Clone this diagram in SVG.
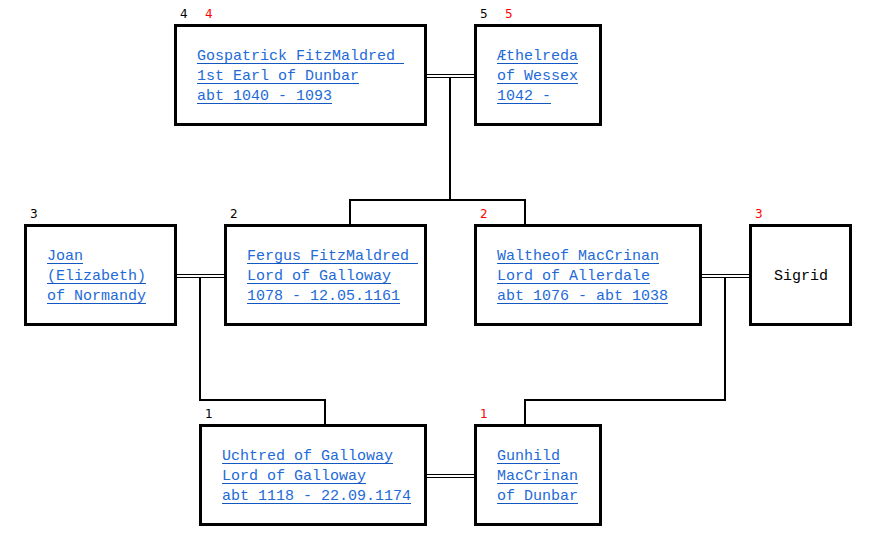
<svg xmlns="http://www.w3.org/2000/svg" width="876" height="551" viewBox="0 0 876 551">
<style>
.box{fill:#fff;stroke:#000;stroke-width:3}
.t{font-family:"Liberation Mono","Courier New",monospace;font-size:15px;fill:#1e6ad8}
.s{font-family:"Liberation Mono","Courier New",monospace;font-size:15px;fill:#000}
.u{stroke:#1358c0;stroke-width:1;fill:none}
.n{font-family:"DejaVu Sans",Verdana,sans-serif;font-size:12px;fill:#000}
.r{font-family:"DejaVu Sans",Verdana,sans-serif;font-size:12px;fill:#ff0000}
.c{stroke:#000;stroke-width:2;fill:none}
.d{stroke:#000;stroke-width:1;fill:none}
</style>
<rect width="876" height="551" fill="#fff"/>
<g id="connectors">
<path class="d" d="M427 74.5H474M427 77.5H474"/>
<path class="c" d="M450 78V200M349 200H526M350 200V224M525 200V224"/>
<path class="d" d="M177 274.5H224M177 277.5H224"/>
<path class="c" d="M200 278V400M199 400H326M325 400V424"/>
<path class="d" d="M702 274.5H749M702 277.5H749"/>
<path class="c" d="M725 278V400M524 400H726M525 400V424"/>
<path class="d" d="M427 474.5H474M427 477.5H474"/>
</g>
<g id="n4">
<text class="n" x="180" y="18">4</text><text class="r" x="205" y="18">4</text>
<rect class="box" x="175.5" y="25.5" width="250" height="99"/>
<text class="t" x="197" y="60">Gospatrick FitzMaldred</text><path class="u" d="M197 63.5H404"/>
<text class="t" x="197" y="80">1st Earl of Dunbar</text><path class="u" d="M197 83.5H359"/>
<text class="t" x="197" y="100">abt 1040 - 1093</text><path class="u" d="M197 103.5H332"/>
</g>
<g id="n5">
<text class="n" x="480" y="18">5</text><text class="r" x="505" y="18">5</text>
<rect class="box" x="475.5" y="25.5" width="125" height="99"/>
<text class="t" x="497" y="60">Æthelreda</text><path class="u" d="M497 63.5H578"/>
<text class="t" x="497" y="80">of Wessex</text><path class="u" d="M497 83.5H578"/>
<text class="t" x="497" y="100">1042 -</text><path class="u" d="M497 103.5H551"/>
</g>
<g id="n3">
<text class="n" x="30" y="218">3</text>
<rect class="box" x="25.5" y="225.5" width="150" height="99"/>
<text class="t" x="47" y="260">Joan</text><path class="u" d="M47 263.5H83"/>
<text class="t" x="47" y="280">(Elizabeth)</text><path class="u" d="M47 283.5H146"/>
<text class="t" x="47" y="300">of Normandy</text><path class="u" d="M47 303.5H146"/>
</g>
<g id="n2">
<text class="n" x="230" y="218">2</text>
<rect class="box" x="225.5" y="225.5" width="200" height="99"/>
<text class="t" x="247" y="260">Fergus FitzMaldred</text><path class="u" d="M247 263.5H418"/>
<text class="t" x="247" y="280">Lord of Galloway</text><path class="u" d="M247 283.5H391"/>
<text class="t" x="247" y="300">1078 - 12.05.1161</text><path class="u" d="M247 303.5H400"/>
</g>
<g id="n2b">
<text class="r" x="480" y="218">2</text>
<rect class="box" x="475.5" y="225.5" width="225" height="99"/>
<text class="t" x="497" y="260">Waltheof MacCrinan</text><path class="u" d="M497 263.5H659"/>
<text class="t" x="497" y="280">Lord of Allerdale</text><path class="u" d="M497 283.5H650"/>
<text class="t" x="497" y="300">abt 1076 - abt 1038</text><path class="u" d="M497 303.5H668"/>
</g>
<g id="n3b">
<text class="r" x="755" y="218">3</text>
<rect class="box" x="750.5" y="225.5" width="100" height="99"/>
<text class="s" x="774" y="280">Sigrid</text>
</g>
<g id="n1">
<text class="n" x="205" y="418">1</text>
<rect class="box" x="200.5" y="425.5" width="225" height="99"/>
<text class="t" x="222" y="460">Uchtred of Galloway</text><path class="u" d="M222 463.5H393"/>
<text class="t" x="222" y="480">Lord of Galloway</text><path class="u" d="M222 483.5H366"/>
<text class="t" x="222" y="500">abt 1118 - 22.09.1174</text><path class="u" d="M222 503.5H411"/>
</g>
<g id="n1b">
<text class="r" x="480" y="418">1</text>
<rect class="box" x="475.5" y="425.5" width="125" height="99"/>
<text class="t" x="497" y="460">Gunhild</text><path class="u" d="M497 463.5H560"/>
<text class="t" x="497" y="480">MacCrinan</text><path class="u" d="M497 483.5H578"/>
<text class="t" x="497" y="500">of Dunbar</text><path class="u" d="M497 503.5H578"/>
</g>
</svg>
